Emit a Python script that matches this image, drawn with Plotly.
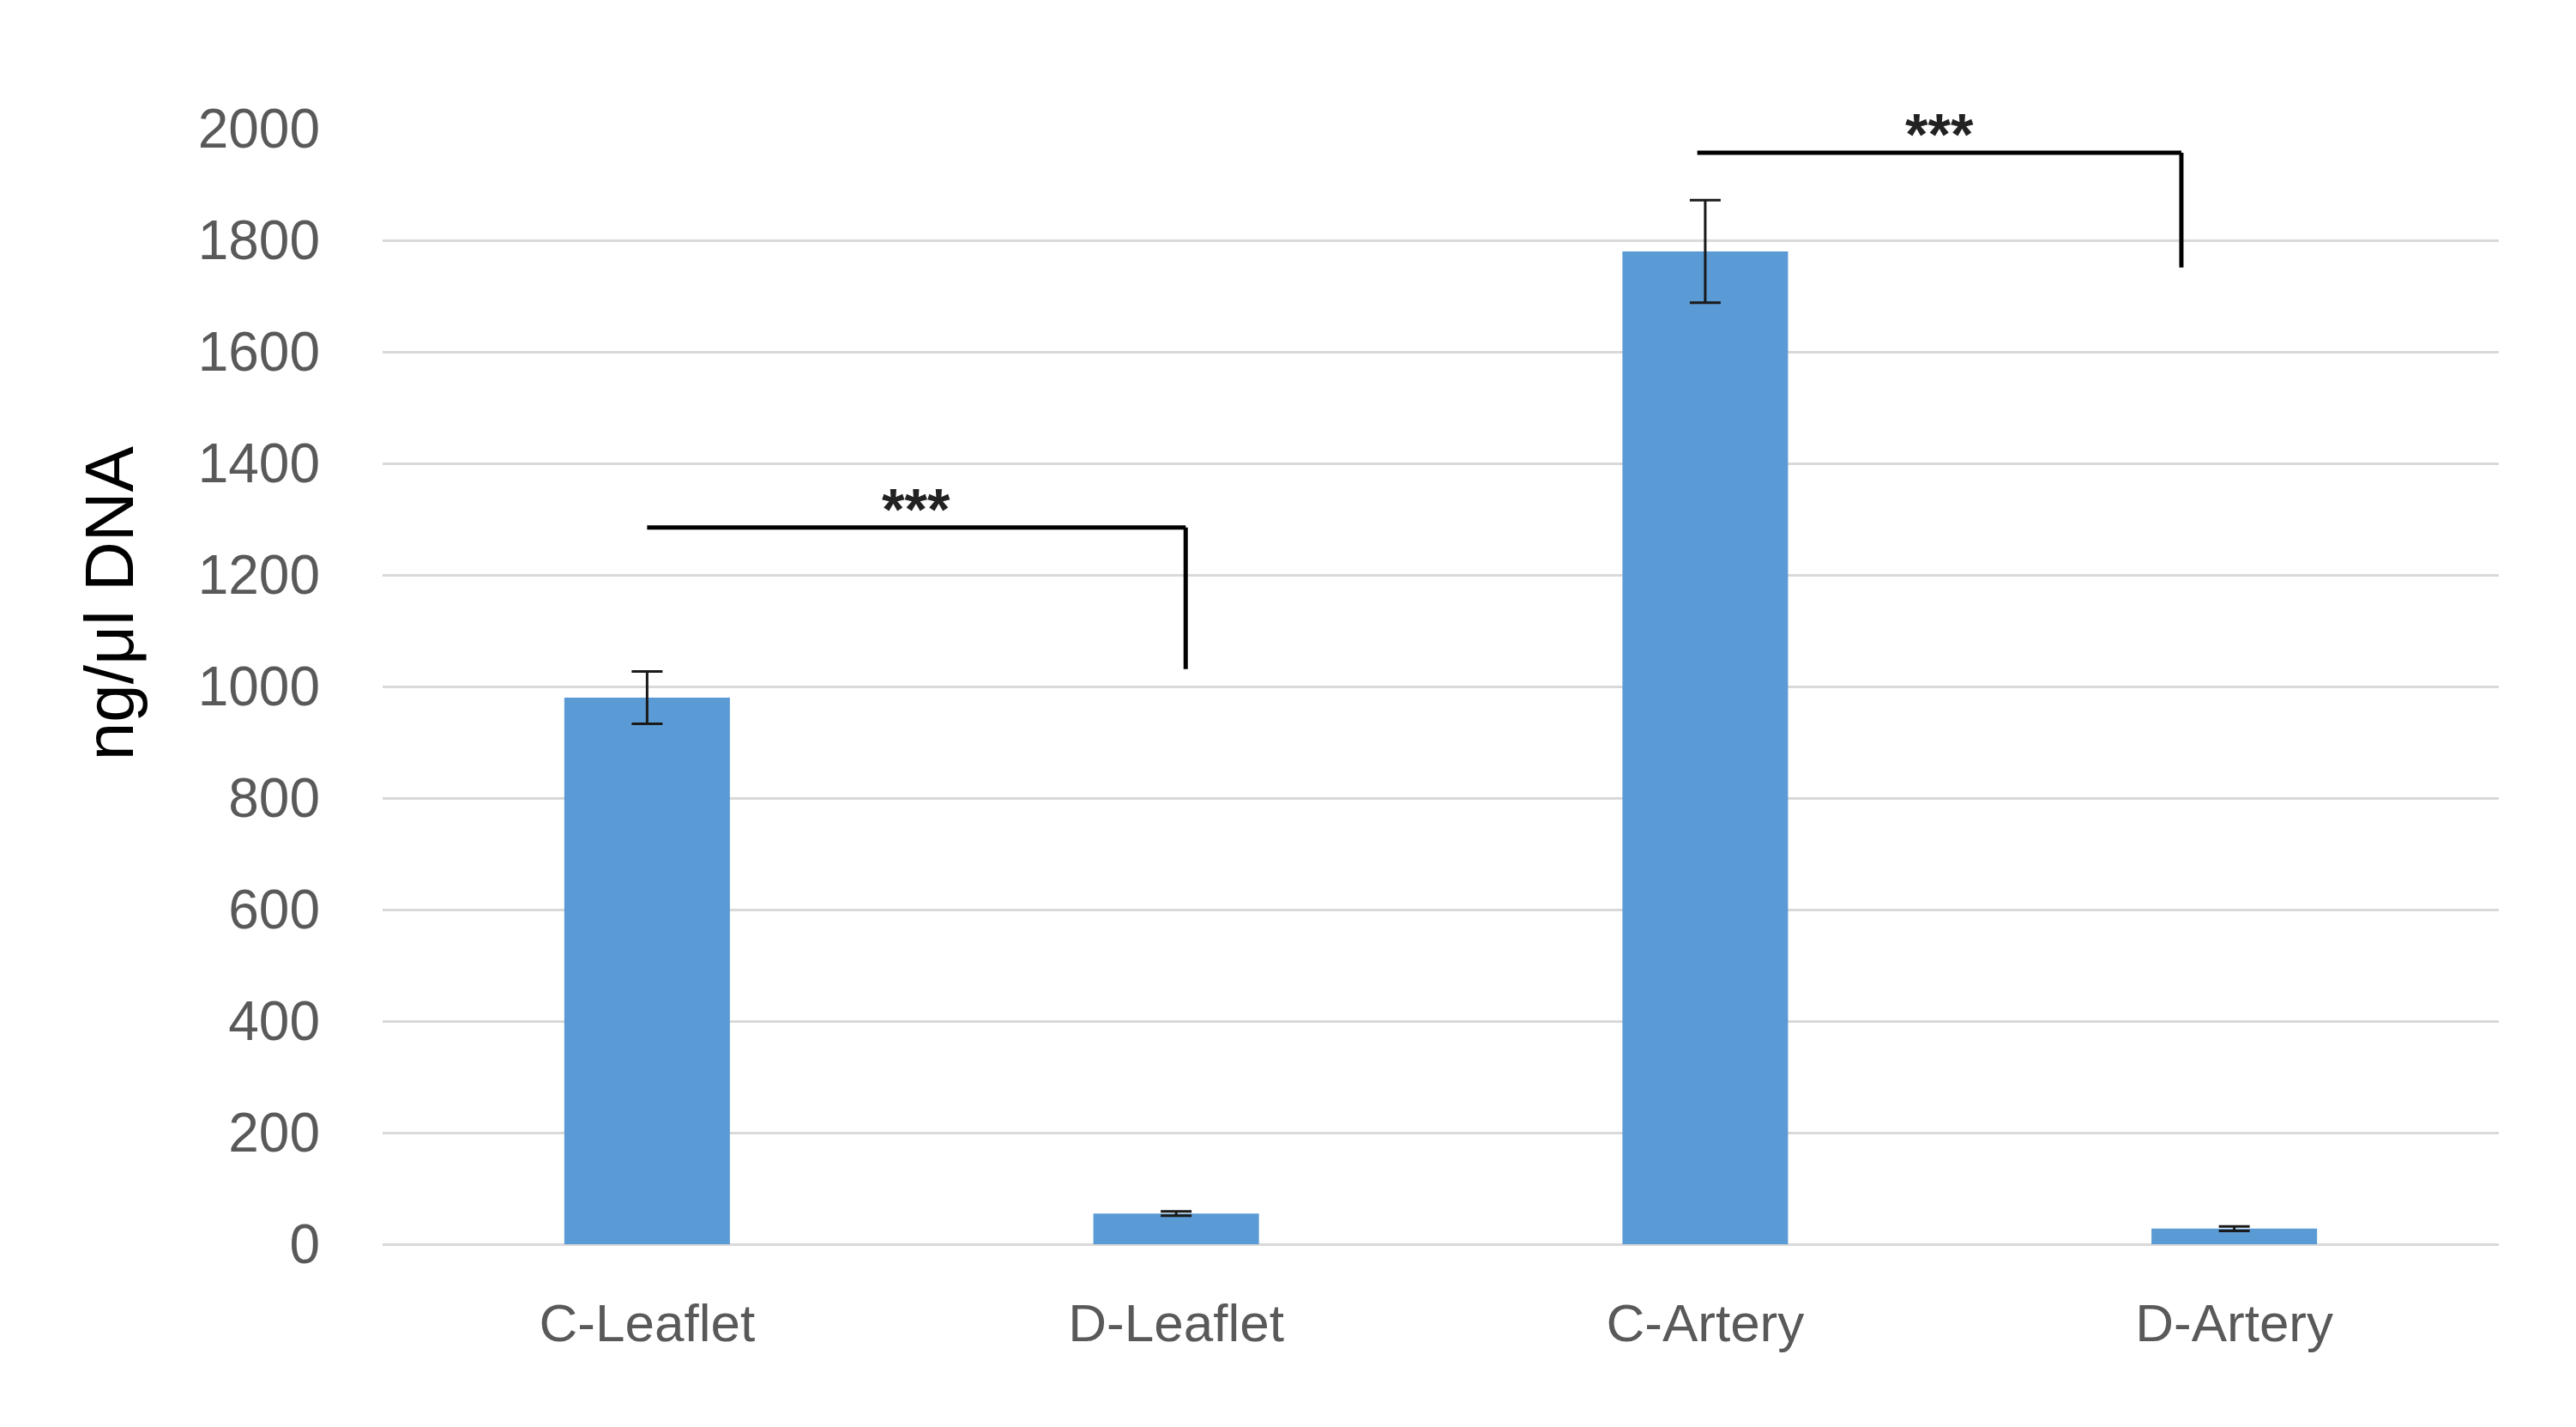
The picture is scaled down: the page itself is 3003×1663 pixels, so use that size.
import plotly.graph_objects as go

categories = ["C-Leaflet", "D-Leaflet", "C-Artery", "D-Artery"]
values = [980, 55, 1780, 28]
errors = [47, 4, 92, 4]
y_ticks = [0, 200, 400, 600, 800, 1000, 1200, 1400, 1600, 1800, 2000]

# significance brackets
bracket_start = [0, 1.985]      # position of left end
bracket_end = [1.018, 2.9]      # position of right end (drop)
bracket_level = [1285, 1957]
bracket_drop_to = [1031, 1751]
bracket_label = ["***", "***"]

FONT = "Liberation Sans, Arial, sans-serif"

fig = go.Figure()
fig.add_trace(go.Bar(
    x=list(range(len(categories))),
    y=values,
    marker=dict(color="#5b9bd5", line=dict(width=0)),
    error_y=dict(type="data", array=errors, visible=True,
                 color="#1a1a1a", thickness=3, width=18),
    width=0.313,
))

for x0, x1, lvl, drop, lab in zip(bracket_start, bracket_end, bracket_level,
                                  bracket_drop_to, bracket_label):
    fig.add_shape(type="line", xref="x", yref="y", x0=x0, x1=x1, y0=lvl, y1=lvl,
                  line=dict(color="black", width=5))
    fig.add_shape(type="line", xref="x", yref="y", x0=x1, x1=x1, y0=lvl, y1=drop,
                  line=dict(color="black", width=5))
    fig.add_annotation(x=(x0 + x1) / 2, y=lvl, xref="x", yref="y", text="<b>" + lab + "</b>",
                       showarrow=False, yanchor="bottom", yshift=-18,
                       font=dict(family=FONT, size=68, color="#222222"))

fig.add_annotation(text="ng/μl DNA", xref="paper", yref="paper",
                   x=-0.129, y=0.575, xanchor="center", yanchor="middle",
                   textangle=-90, showarrow=False,
                   font=dict(family=FONT, size=80, color="black"))

fig.update_layout(
    width=3003, height=1663,
    margin=dict(l=438, r=98, t=142, b=221),
    paper_bgcolor="white", plot_bgcolor="white",
    showlegend=False,
    font=dict(family=FONT, color="#595959", size=60),
    xaxis=dict(
        tickmode="array", tickvals=list(range(len(categories))), ticktext=categories,
        range=[-0.5, len(categories) - 0.5],
        showgrid=False, zeroline=False, showline=False, ticks="",
        tickfont=dict(family=FONT, size=62, color="#595959"),
        ticklabelstandoff=50,
    ),
    yaxis=dict(
        range=[0, 2000], tickvals=y_ticks,
        showgrid=True, gridcolor="#d9d9d9", gridwidth=3,
        zeroline=True, zerolinecolor="#d9d9d9", zerolinewidth=3,
        showline=False, ticks="",
        tickfont=dict(family=FONT, size=64, color="#595959"),
        ticklabelstandoff=72,
    ),
)

fig.write_html("out.html")
